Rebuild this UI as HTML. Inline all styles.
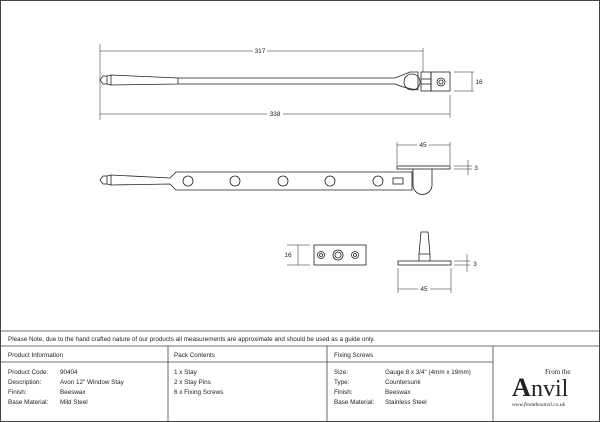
<!DOCTYPE html><html><head><style>body{margin:0;background:#fff}svg{display:block}text{font-family:"Liberation Sans",sans-serif;fill:#222}</style></head><body>
<svg width="600" height="422" viewBox="0 0 600 422" xmlns="http://www.w3.org/2000/svg">
<rect x="0.5" y="0.5" width="599" height="421" fill="none" stroke="#444"/>
<g stroke="#222" fill="none" stroke-width="0.8">
<line x1="100" y1="51" x2="423" y2="51" stroke-width="0.5"/><line x1="100" y1="44" x2="100" y2="120" stroke-width="0.5"/><line x1="423" y1="48" x2="423" y2="72" stroke-width="0.5"/>
<line x1="100" y1="114" x2="450" y2="114" stroke-width="0.5"/><line x1="450" y1="95" x2="450" y2="118" stroke-width="0.5"/>
<line x1="454" y1="72" x2="474" y2="72" stroke-width="0.5"/><line x1="454" y1="91" x2="474" y2="91" stroke-width="0.5"/><line x1="472" y1="72" x2="472" y2="91" stroke-width="0.5"/>
<path d="M103,76 L100,80 L103,84 L107,84 L107,76 Z M107,76 L111,75 L111,85 L107,84 M111,75 L178,78 L178,84 L111,85"/>
<path d="M178,78 L395,78 Q405,74 410,72 L418,72 L418,90 Q404,88 395,84 L178,84"/>
<circle cx="412" cy="82" r="8"/>
<rect x="421" y="72" width="10" height="19"/><line x1="421" y1="79" x2="431" y2="79"/><line x1="421" y1="84" x2="431" y2="84"/>
<rect x="431" y="72" width="19" height="19"/><circle cx="441" cy="82" r="4"/><circle cx="441" cy="82" r="2"/>
<line x1="397" y1="145" x2="450" y2="145" stroke-width="0.5"/><line x1="397" y1="142" x2="397" y2="165" stroke-width="0.5"/><line x1="450" y1="142" x2="450" y2="165" stroke-width="0.5"/>
<line x1="454" y1="166" x2="472" y2="166" stroke-width="0.5"/><line x1="454" y1="169" x2="472" y2="169" stroke-width="0.5"/><line x1="468" y1="160" x2="468" y2="175" stroke-width="0.5"/>
<rect x="397" y="166" width="53" height="3"/>
<path d="M103,176 L100,180 L103,184 L107,184 L107,176 Z M107,176 L111,175 L111,185 L107,184 M111,175 L170,178 L176,172 L412,172 L412,190 L176,190 L170,184 L111,185"/>
<circle cx="188" cy="181" r="5"/><circle cx="235" cy="181" r="5"/><circle cx="283" cy="181" r="5"/><circle cx="330" cy="181" r="5"/><circle cx="378" cy="181" r="5"/>
<rect x="393" y="178" width="10" height="6"/>
<path d="M413,169 L413,185 A9,9 0 0 0 432,185 L432,169"/>
<rect x="314" y="245" width="52" height="20"/><circle cx="321" cy="255" r="3.5"/><circle cx="321" cy="255" r="1.5"/><circle cx="338" cy="255" r="5"/><circle cx="338" cy="255" r="3"/><circle cx="355" cy="255" r="3.5"/><circle cx="355" cy="255" r="1.5"/>
<line x1="287" y1="245" x2="310" y2="245" stroke-width="0.5"/><line x1="287" y1="265" x2="310" y2="265" stroke-width="0.5"/><line x1="298" y1="245" x2="298" y2="265" stroke-width="0.5"/>
<rect x="398" y="261" width="53" height="4"/><path d="M419,261 L419,254 L421,232 L428,232 L430,254 L430,261 M419,254 L430,254"/>
<line x1="454" y1="261" x2="470" y2="261" stroke-width="0.5"/><line x1="454" y1="265" x2="470" y2="265" stroke-width="0.5"/><line x1="467" y1="254" x2="467" y2="272" stroke-width="0.5"/>
<line x1="398" y1="268" x2="398" y2="293" stroke-width="0.5"/><line x1="451" y1="268" x2="451" y2="293" stroke-width="0.5"/><line x1="398" y1="289" x2="451" y2="289" stroke-width="0.5"/>
</g>
<g font-size="6.5" text-anchor="middle">
<rect x="253" y="47" width="14" height="8" fill="#fff"/><text x="260" y="53">317</text>
<rect x="267" y="110" width="16" height="8" fill="#fff"/><text x="275" y="116">338</text>
<text x="479" y="84">16</text>
<rect x="417" y="141" width="12" height="8" fill="#fff"/><text x="423" y="147">45</text>
<text x="476" y="170">3</text>
<text x="288" y="257">16</text>
<text x="475" y="266">3</text>
<rect x="418" y="285" width="12" height="8" fill="#fff"/><text x="424" y="291">45</text>
</g>
<g stroke="#444" stroke-width="0.8" fill="none">
<line x1="0" y1="331" x2="600" y2="331"/><line x1="0" y1="346" x2="600" y2="346"/><line x1="0" y1="362" x2="493" y2="362"/>
<line x1="168" y1="346" x2="168" y2="422"/><line x1="327" y1="346" x2="327" y2="422"/><line x1="493" y1="346" x2="493" y2="422"/>
</g>
<g font-size="6.3">
<text x="8" y="341">Please Note, due to the hand crafted nature of our products all measurements are approximate and should be used as a guide only.</text>
<text x="8" y="357">Product Information</text><text x="174" y="357">Pack Contents</text><text x="334" y="357">Fixing Screws</text>
<text x="8" y="374">Product Code:</text><text x="60" y="374">90404</text>
<text x="8" y="384">Description:</text><text x="60" y="384">Avon 12" Window Stay</text>
<text x="8" y="394">Finish:</text><text x="60" y="394">Beeswax</text>
<text x="8" y="404">Base Material:</text><text x="60" y="404">Mild Steel</text>
<text x="174" y="374">1 x Stay</text><text x="174" y="384">2 x Stay Pins</text><text x="174" y="394">6 x Fixing Screws</text>
<text x="334" y="374">Size:</text><text x="385" y="374">Gauge 8 x 3/4" (4mm x 19mm)</text>
<text x="334" y="384">Type:</text><text x="385" y="384">Countersunk</text>
<text x="334" y="394">Finish:</text><text x="385" y="394">Beeswax</text>
<text x="334" y="404">Base Material:</text><text x="385" y="404">Stainless Steel</text>
</g>
<text x="545" y="374" font-size="7" style="font-family:'Liberation Serif'">From the</text>
<text x="512" y="396" font-size="26" font-weight="bold" style="font-family:'Liberation Serif'">A</text>
<text x="531" y="396" font-size="24" style="font-family:'Liberation Serif'">nvil</text>
<text x="512" y="406" font-size="5.5" font-style="italic" style="font-family:'Liberation Serif'">www.fromtheanvil.co.uk</text>
</svg></body></html>
